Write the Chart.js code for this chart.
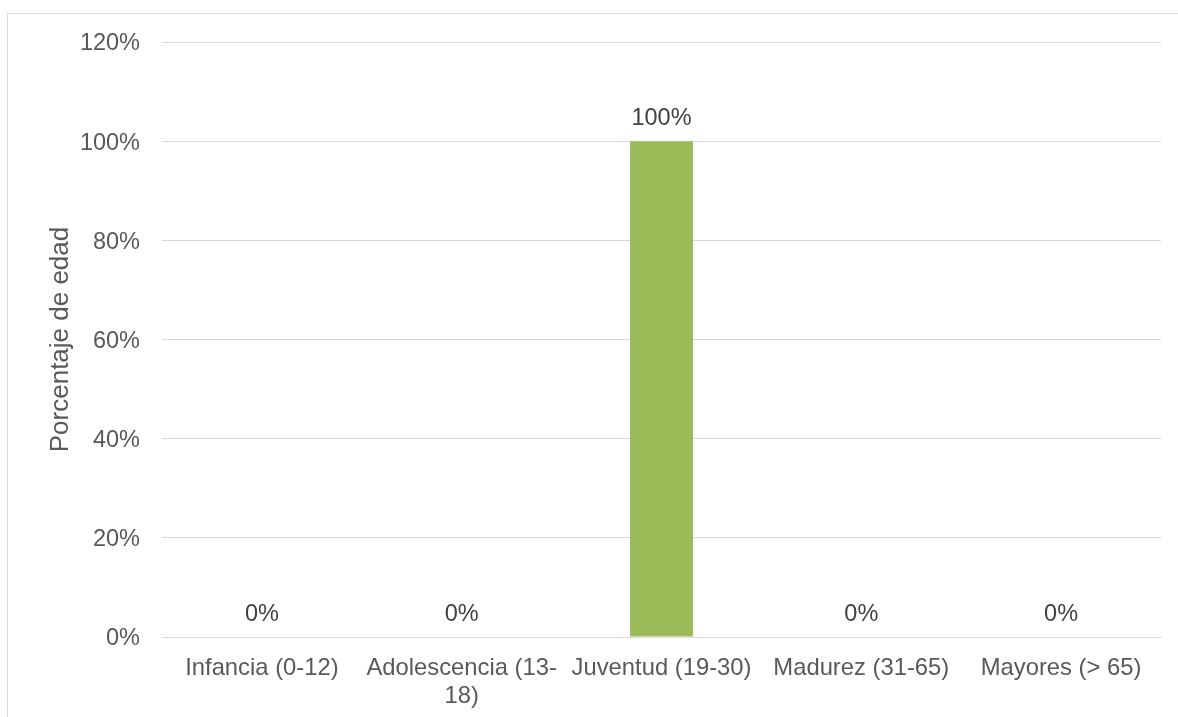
<!DOCTYPE html>
<html>
<head>
<meta charset="utf-8">
<script src="https://cdn.jsdelivr.net/npm/chart.js@4/dist/chart.umd.min.js"></script>
<style>
  html, body { margin: 0; padding: 0; background: #fff; }
  #wrap { position: relative; width: 1178px; height: 717px; overflow: hidden; }
  #frame { position: absolute; left: 7px; top: 13px; width: 1300px; height: 800px; border: 1px solid #d9d9d9; box-sizing: border-box; }
  #myChart { position: absolute; left: 0; top: 0; }
</style>
</head>
<body>
<div id="wrap">
  <div id="frame"></div>
  <canvas id="myChart" width="1178" height="717"></canvas>
</div>
<script>
// data
const categories = ['Infancia (0-12)', ['Adolescencia (13-', '18)'], 'Juventud (19-30)', 'Madurez (31-65)', 'Mayores (> 65)'];
const porcentajes = [0, 0, 100, 0, 0];
const yTicks = [0, 20, 40, 60, 80, 100, 120];

const textColor = '#595959';
const fontFamily = '"Liberation Sans", Arial, sans-serif';

Chart.defaults.font.family = fontFamily;
Chart.defaults.color = textColor;

// draws the "0%" / "100%" above each bar
const valueLabels = {
    id: 'valueLabels',
    afterDatasetsDraw: (chart) => {
        const ctx = chart.ctx;
        const meta = chart.getDatasetMeta(0);
        ctx.save();
        ctx.font = '23.5px ' + fontFamily;
        ctx.fillStyle = '#404040';
        ctx.textAlign = 'center';
        ctx.textBaseline = 'alphabetic';
        meta.data.forEach((bar, i) => {
            ctx.fillText(porcentajes[i] + '%', bar.x, bar.y - 16);
        });
        ctx.restore();
    }
};

const ctx = document.getElementById('myChart').getContext('2d');
const myChart = new Chart(ctx, {
    type: 'bar',
    plugins: [valueLabels],
    data: {
        labels: categories,
        datasets: [{
            data: porcentajes,
            backgroundColor: '#9bbb59',
            categoryPercentage: 1,
            barPercentage: 0.315
        }]
    },
    options: {
        responsive: false,
        animation: false,
        layout: { padding: { top: 42, right: 17, left: 0, bottom: 0 } },
        plugins: { legend: { display: false }, tooltip: { enabled: false } },
        scales: {
            x: {
                grid: { display: false, drawTicks: false },
                border: { color: '#d9d9d9', width: 1 },
                ticks: { font: { size: 23.8 }, color: textColor, padding: 17, maxRotation: 0, autoSkip: false },
                afterFit: (scale) => { scale.height = 80; }
            },
            y: {
                min: 0,
                max: 120,
                afterBuildTicks: (scale) => { scale.ticks = yTicks.map(v => ({ value: v })); },
                grid: { color: '#d9d9d9', lineWidth: 1, drawTicks: false },
                border: { display: false },
                ticks: { font: { size: 23.5 }, color: textColor, padding: 22, labelOffset: 2, callback: (v) => v + '%' },
                title: { display: true, text: 'Porcentaje de edad', font: { size: 26 }, color: textColor, padding: { top: 45, bottom: 0 } },
                afterFit: (scale) => { scale.width = 162; }
            }
        }
    }
});
</script>
</body>
</html>
